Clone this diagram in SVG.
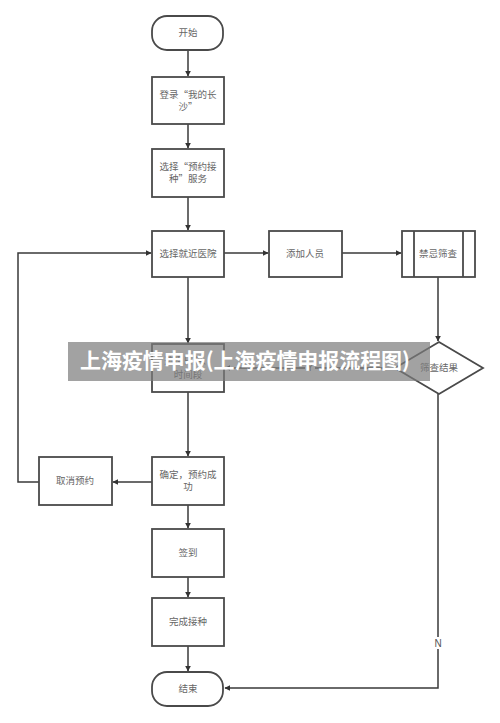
<svg xmlns="http://www.w3.org/2000/svg" width="500" height="723" viewBox="0 0 500 723">
<style>
.n{fill:#fff;stroke:#4a4a4a;stroke-width:1.8}
.t{font-family:"Noto Sans CJK SC","Liberation Sans",sans-serif;font-size:9.5px;fill:#666;text-anchor:middle}
.c{fill:none;stroke:#3a3a3a;stroke-width:1.5}
.lb{font-family:"Liberation Sans","Noto Sans CJK SC",sans-serif;font-size:10px;fill:#555;text-anchor:middle}
.bt{font-family:"Noto Sans CJK SC",sans-serif;font-size:21px;font-weight:bold;fill:#fff}
</style>
<defs>
<marker id="a" viewBox="0 0 10 10" refX="9" refY="5" markerWidth="6" markerHeight="6" orient="auto" markerUnits="userSpaceOnUse"><path d="M0,0L10,5L0,10z" fill="#333"/></marker>
</defs>
<rect width="500" height="723" fill="#fff"/>
<g id="connectors">
<path class="c" d="M188,50V76" marker-end="url(#a)"/>
<path class="c" d="M188,124V148" marker-end="url(#a)"/>
<path class="c" d="M188,197V230" marker-end="url(#a)"/>
<path class="c" d="M224,253H268" marker-end="url(#a)"/>
<path class="c" d="M342,253H401" marker-end="url(#a)"/>
<path class="c" d="M438,277V341" marker-end="url(#a)"/>
<path class="c" d="M188,277V343" marker-end="url(#a)"/>
<path class="c" d="M395,368H225" marker-end="url(#a)"/>
<path class="c" d="M188,392V456" marker-end="url(#a)"/>
<path class="c" d="M152,482H113" marker-end="url(#a)"/>
<path class="c" d="M39,482H18V253H151" marker-end="url(#a)"/>
<path class="c" d="M188,505V528" marker-end="url(#a)"/>
<path class="c" d="M188,577V597" marker-end="url(#a)"/>
<path class="c" d="M188,646V671" marker-end="url(#a)"/>
<path class="c" d="M438,394V688H225" marker-end="url(#a)"/>
<rect x="305" y="362" width="10" height="11" fill="#fff"/>
<text class="lb" x="310" y="371">Y</text>
<rect x="433" y="637" width="10" height="12" fill="#fff"/>
<text class="lb" x="438" y="647">N</text>
</g>
<g id="start"><rect class="n" x="152" y="16" width="71" height="34" rx="15"/><text class="t" x="188" y="36">开始</text></g>
<g id="login"><rect class="n" x="152" y="77" width="72" height="47"/><text class="t" x="188" y="98">登录“我的长</text><text class="t" x="188" y="110">沙”</text></g>
<g id="service"><rect class="n" x="152" y="149" width="72" height="48"/><text class="t" x="188" y="170">选择“预约接</text><text class="t" x="188" y="182">种”服务</text></g>
<g id="hospital"><rect class="n" x="152" y="231" width="72" height="46"/><text class="t" x="188" y="257">选择就近医院</text></g>
<g id="addperson"><rect class="n" x="269" y="231" width="73" height="46"/><text class="t" x="305" y="257">添加人员</text></g>
<g id="screen"><rect class="n" x="402" y="231" width="73" height="46"/><path class="n" d="M414,231V277M463,231V277"/><text class="t" x="438" y="257">禁忌筛查</text></g>
<g id="result"><path class="n" d="M439,342L483,368L439,394L395,368z"/><text class="t" x="439" y="371">筛查结果</text></g>
<g id="timeslot"><rect class="n" x="152" y="344" width="72" height="48"/><text class="t" x="188" y="364">选择日期、</text><text class="t" x="188" y="378">时间段</text></g>
<g id="confirm"><rect class="n" x="152" y="457" width="72" height="48"/><text class="t" x="188" y="478">确定，预约成</text><text class="t" x="188" y="490">功</text></g>
<g id="cancel"><rect class="n" x="39" y="457" width="73" height="48"/><text class="t" x="75" y="484">取消预约</text></g>
<g id="checkin"><rect class="n" x="152" y="529" width="72" height="48"/><text class="t" x="188" y="556">签到</text></g>
<g id="done"><rect class="n" x="152" y="598" width="72" height="48"/><text class="t" x="188" y="625">完成接种</text></g>
<g id="end"><rect class="n" x="152" y="672" width="71" height="34" rx="15"/><text class="t" x="188" y="692">结束</text></g>
<g id="banner"><rect x="68" y="342" width="362" height="39" fill="#7a7a7a" fill-opacity="0.7"/><text class="bt" x="80" y="368" textLength="330">上海疫情申报(上海疫情申报流程图)</text></g>
</svg>
